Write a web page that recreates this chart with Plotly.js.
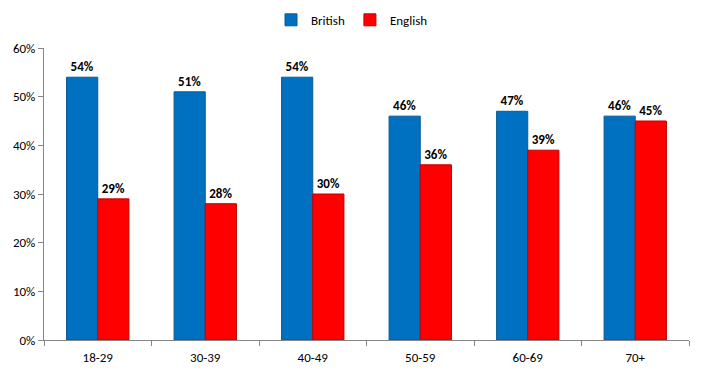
<!DOCTYPE html>
<html>
<head>
<meta charset="utf-8">
<script src="https://cdn.plot.ly/plotly-3.0.1.min.js"></script>
<style>html,body{margin:0;padding:0;background:#fff;}#chart{width:704px;height:375px;}</style>
</head>
<body>
<div id="chart"></div>
<script>
const categories = ["18-29", "30-39", "40-49", "50-59", "60-69", "70+"];
const british = [0.54, 0.51, 0.54, 0.46, 0.47, 0.46];
const english = [0.29, 0.28, 0.30, 0.36, 0.39, 0.45];
const tickVals = [0, 0.1, 0.2, 0.3, 0.4, 0.5, 0.6];

const font = "Carlito, Liberation Sans, Arial, sans-serif";
const traces = [
  {type: "bar", name: "British", x: categories, y: british,
   marker: {color: "#0070C0", line: {color: "#0A5A94", width: 1}},
   text: british.map(v => Math.round(v*100) + "%"), textposition: "outside",
   textfont: {family: font, size: 13, color: "#000", weight: "bold"}, cliponaxis: false},
  {type: "bar", name: "English", x: categories, y: english,
   marker: {color: "#FF0000", line: {color: "#C00000", width: 1}},
   text: english.map(v => Math.round(v*100) + "%"), textposition: "outside",
   textfont: {family: font, size: 13, color: "#000", weight: "bold"}, cliponaxis: false}
];
const layout = {
  width: 704, height: 375,
  margin: {l: 44, r: 15, t: 48, b: 35},
  paper_bgcolor: "#fff", plot_bgcolor: "#fff",
  font: {family: font, size: 13, color: "#000"},
  barmode: "group", bargap: 0.42, bargroupgap: 0,
  showlegend: true,
  legend: {orientation: "h", x: 0.5, xanchor: "center", xref: "container", yref: "container", y: 0.947, yanchor: "middle", font: {size: 13}, itemwidth: 30, tracegroupgap: 0},
  xaxis: {showline: true, linecolor: "#868686", ticks: "outside", tickcolor: "#868686", ticklen: 5, tickson: "boundaries", showgrid: false, ticklabelstandoff: 5, automargin: false},
  yaxis: {range: [0, 0.6], tickvals: tickVals, tickformat: ".0%", showline: true, linecolor: "#868686", ticks: "outside", tickcolor: "#868686", ticklen: 5, showgrid: false, zeroline: false, automargin: false}
};
Plotly.newPlot("chart", traces, layout, {displayModeBar: false, staticPlot: true});
</script>
</body>
</html>
